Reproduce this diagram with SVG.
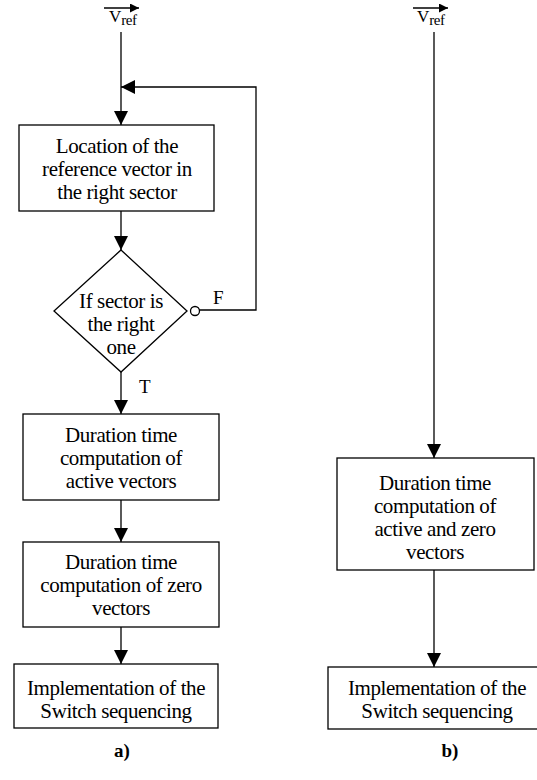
<svg xmlns="http://www.w3.org/2000/svg" width="537" height="780" viewBox="0 0 537 780">
<defs>
<style>
.box{fill:#fff;stroke:#000;stroke-width:1.3}
.ln{fill:none;stroke:#000;stroke-width:1.3}
text{font-family:'Liberation Serif','Times New Roman',Times,'DejaVu Serif',serif;fill:#000}
.t{font-size:21px;text-anchor:middle;letter-spacing:-0.4px}
.lbl{font-size:19px}
.cap{font-size:19px;font-weight:bold;text-anchor:middle}
.v{font-size:17px}
</style>
<marker id="ah" viewBox="0 0 14 14" refX="14" refY="7" markerWidth="14" markerHeight="14" markerUnits="userSpaceOnUse" orient="auto">
<path d="M0,0 L14,7 L0,14 Z" fill="#000"/>
</marker>
<marker id="ahs" viewBox="0 0 10 10" refX="10" refY="5" markerWidth="13" markerHeight="9" markerUnits="userSpaceOnUse" orient="auto">
<path d="M0,0 L10,5 L0,10 Z" fill="#000"/>
</marker>
</defs>
<rect width="537" height="780" fill="#fff"/>

<g id="vref-a">
<text class="v" x="109" y="22">V<tspan font-size="15" dy="3" letter-spacing="-0.5">ref</tspan></text>
<line class="ln" x1="104" y1="8" x2="139" y2="8" marker-end="url(#ahs)"/>
</g>
<g id="vref-b">
<text class="v" x="417" y="22">V<tspan font-size="15" dy="3" letter-spacing="-0.5">ref</tspan></text>
<line class="ln" x1="413" y1="8" x2="448" y2="8" marker-end="url(#ahs)"/>
</g>

<g id="connectors">
<line class="ln" x1="121" y1="32" x2="121" y2="125" marker-end="url(#ah)"/>
<polyline class="ln" points="199,310 256,310 256,87 121,87" marker-end="url(#ah)"/>
<line class="ln" x1="121" y1="211" x2="121" y2="250" marker-end="url(#ah)"/>
<line class="ln" x1="121" y1="372" x2="121" y2="414" marker-end="url(#ah)"/>
<line class="ln" x1="121" y1="500" x2="121" y2="542" marker-end="url(#ah)"/>
<line class="ln" x1="121" y1="627" x2="121" y2="664" marker-end="url(#ah)"/>
<line class="ln" x1="434" y1="32" x2="434" y2="458" marker-end="url(#ah)"/>
<line class="ln" x1="434" y1="570" x2="434" y2="667" marker-end="url(#ah)"/>
<circle class="box" cx="195" cy="311" r="4.5"/>
<text class="lbl" x="213" y="304">F</text>
<text class="lbl" x="139" y="393">T</text>
</g>

<g id="location">
<rect class="box" x="19" y="125" width="195" height="86"/>
<text class="t" x="117" y="153">Location of the</text>
<text class="t" x="117" y="176">reference vector in</text>
<text class="t" x="117" y="199">the right sector</text>
</g>

<g id="decision">
<polygon class="box" points="121,250 187,311 121,372 54,311"/>
<text class="t" x="121" y="308">If sector is</text>
<text class="t" x="121" y="331">the right</text>
<text class="t" x="121" y="354">one</text>
</g>

<g id="active">
<rect class="box" x="23" y="414" width="196" height="86"/>
<text class="t" x="121" y="442">Duration time</text>
<text class="t" x="121" y="465">computation of</text>
<text class="t" x="121" y="488">active vectors</text>
</g>

<g id="zero">
<rect class="box" x="23" y="542" width="196" height="85"/>
<text class="t" x="121" y="569">Duration time</text>
<text class="t" x="121" y="592">computation of zero</text>
<text class="t" x="121" y="615">vectors</text>
</g>

<g id="impl-a">
<rect class="box" x="14" y="664" width="204" height="64"/>
<text class="t" x="116" y="695">Implementation of the</text>
<text class="t" x="116" y="718">Switch sequencing</text>
</g>

<g id="activezero">
<rect class="box" x="337" y="458" width="197" height="112"/>
<text class="t" x="435" y="490">Duration time</text>
<text class="t" x="435" y="513">computation of</text>
<text class="t" x="435" y="536">active and zero</text>
<text class="t" x="435" y="559">vectors</text>
</g>

<g id="impl-b">
<rect class="box" x="328" y="667" width="215" height="62"/>
<text class="t" x="437" y="695">Implementation of the</text>
<text class="t" x="437" y="718">Switch sequencing</text>
</g>

<text class="cap" x="122" y="757">a)</text>
<text class="cap" x="450" y="757">b)</text>
</svg>
